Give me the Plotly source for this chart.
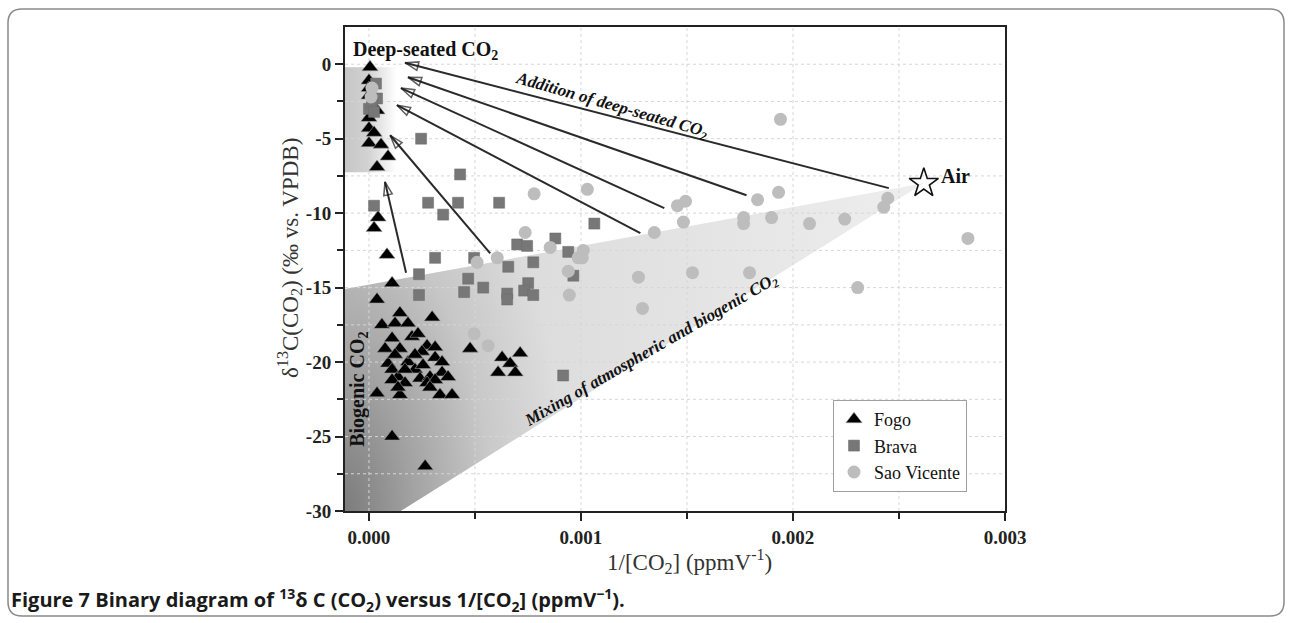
import plotly.graph_objects as go

# ---------------- data ----------------
fogo_x = [0.000005, 0.0, 0.0, 0.0, 0.000014, 0.000038, 0.0, 0.0, 0.000024, 0.0, 0.000057,
          0.000090, 0.000038, 0.000043, 0.000024, 0.000085, 0.000109,
          0.000038, 0.000146, 0.000061, 0.000123, 0.000184, 0.000298, 0.000109, 0.000203,
          0.000231, 0.000274, 0.000312, 0.000076, 0.000146, 0.000250, 0.000312, 0.000345,
          0.000090, 0.000184, 0.000109, 0.000217, 0.000137, 0.000241, 0.000288, 0.000345,
          0.000373, 0.000109, 0.000170, 0.000274, 0.000312, 0.000038, 0.000146, 0.000288,
          0.000335, 0.000392, 0.000123, 0.000217, 0.000170, 0.000255, 0.000137, 0.000477,
          0.000109, 0.000265, 0.000628, 0.000713, 0.000666, 0.000609, 0.000690]
fogo_y = [-0.2, -1.1, -1.6, -2.1, -2.8, -3.1, -3.6, -4.3, -4.6, -5.3, -5.4,
          -6.2, -6.9, -10.3, -11.0, -12.8, -14.7,
          -15.8, -16.7, -17.5, -17.4, -17.4, -17.0, -18.4, -18.3,
          -18.1, -18.9, -19.0, -19.1, -19.1, -19.3, -19.7, -20.0,
          -20.1, -20.0, -20.5, -20.5, -21.0, -21.1, -21.0, -20.7,
          -21.0, -21.2, -21.4, -21.4, -21.2, -22.1, -22.2, -21.7,
          -22.2, -22.2, -19.5, -19.5, -20.5, -20.2, -21.7, -19.1,
          -25.0, -27.0, -19.7, -19.4, -20.1, -20.7, -20.7]

brava_x = [0.000033, 0.000038, 0.0, 0.000014, 0.000024, 0.000246, 0.000430, 0.000024,
           0.000279, 0.000350, 0.000420, 0.000614, 0.001063, 0.000879, 0.000699, 0.000746,
           0.000940, 0.000312, 0.000496, 0.000657, 0.000775, 0.000964, 0.000236, 0.000468,
           0.000539, 0.000449, 0.000652, 0.000652, 0.000751, 0.000732, 0.000775, 0.000236,
           0.000916]
brava_y = [-1.3, -2.3, -3.0, -2.6, -3.2, -5.0, -7.4, -9.5,
           -9.3, -10.1, -9.3, -9.3, -10.7, -11.7, -12.1, -12.2,
           -12.6, -13.0, -13.0, -13.6, -13.3, -14.2, -14.1, -14.4,
           -15.0, -15.3, -15.4, -15.8, -14.7, -15.2, -15.5, -15.5,
           -20.9]

sv_x = [0.000014, 0.000010, 0.000779, 0.001030, 0.000737, 0.000855, 0.001011, 0.001006,
        0.000987, 0.000605, 0.000510, 0.000940, 0.000945, 0.001271, 0.001290, 0.000496,
        0.000562, 0.001941, 0.001932, 0.001833, 0.001767, 0.001767, 0.001899, 0.001493,
        0.001455, 0.001483, 0.001346, 0.001526, 0.001795, 0.002447, 0.002428, 0.002078,
        0.002244, 0.002825, 0.002305]
sv_y = [-1.6, -2.2, -8.7, -8.4, -11.3, -12.3, -12.5, -13.0,
        -13.0, -13.0, -13.3, -13.9, -15.5, -14.3, -16.4, -18.1,
        -18.9, -3.7, -8.6, -9.1, -10.3, -10.7, -10.3, -9.2,
        -9.5, -10.6, -11.3, -14.0, -14.0, -9.0, -9.6, -10.7,
        -10.4, -11.7, -15.0]

air_x, air_y = 0.002617, -7.99

# arrows: tail -> head (addition of deep-seated CO2)
arrow_tail_x = [0.002452, 0.001781, 0.001393, 0.001280, 0.000572, 0.000175]
arrow_tail_y = [-8.32, -8.8, -9.66, -11.34, -12.7, -14.0]
arrow_head_x = [0.000170, 0.000184, 0.000151, 0.000132, 0.000100, 0.0000756]
arrow_head_y = [0.1, -0.87, -1.6, -2.75, -4.77, -7.9]

# shaded domains
deep_x = [-0.000113, 0.000130]
deep_y = [-7.25, -0.2]
mix_left_y = -15.1
mix_bottom_x = 0.00015

x_ticks = [0.0, 0.001, 0.002, 0.003]
x_ticktext = ["0.000", "0.001", "0.002", "0.003"]
x_minor = [0.0005, 0.0015, 0.0025]
y_ticks = [0, -5, -10, -15, -20, -25, -30]
y_ticktext = ["0", "-5", "-10", "-15", "-20", "-25", "-30"]
y_minor = [-2.5, -7.5, -12.5, -17.5, -22.5, -27.5]

# ---------------- layout geometry ----------------
XMIN, XMAX = -0.000113, 0.003
YMIN, YMAX = -30, 2.5
W, H = 1292, 623
L, R, T, B = 345, 287, 27, 112


def paper_x(px):
    return (px - L) / (W - L - R)


def paper_y(py):
    return (H - B - py) / (H - T - B)


SERIF = "Liberation Serif"
fig = go.Figure()

# mixing triangle (base light gray)
fig.add_trace(go.Scatter(
    x=[XMIN, air_x, mix_bottom_x, XMIN, XMIN],
    y=[mix_left_y, air_y, YMIN, YMIN, mix_left_y],
    mode="lines", line=dict(width=0), fill="toself",
    fillgradient=dict(type="horizontal", start=XMIN, stop=air_x,
                      colorscale=[[0, "#d4d4d4"], [1, "#eeeeee"]]),
    showlegend=False, hoverinfo="skip"))

# radial darkening in the biogenic corner (bbox centred on lower-left corner)
wx = air_x - XMIN
up = YMIN + 2 * (air_x - XMIN) / (XMAX - XMIN) * (W - L - R) / (H - T - B) * (YMAX - YMIN)
hy = up - YMIN
fig.add_trace(go.Scatter(
    x=[XMIN - wx, XMIN, XMIN, air_x, mix_bottom_x, mix_bottom_x, XMIN - wx, XMIN - wx],
    y=[YMIN + hy, YMIN + hy, mix_left_y, air_y, YMIN, YMIN - hy, YMIN - hy, YMIN + hy],
    mode="lines", line=dict(width=0), fill="toself",
    fillgradient=dict(type="radial",
                      colorscale=[[0, "rgba(70,70,70,0.62)"], [0.12, "rgba(70,70,70,0.36)"],
                                  [0.25, "rgba(70,70,70,0.12)"], [0.38, "rgba(70,70,70,0.0)"],
                                  [1, "rgba(70,70,70,0.0)"]]),
    showlegend=False, hoverinfo="skip"))

# deep-seated band
fig.add_trace(go.Scatter(
    x=[deep_x[0], deep_x[1], deep_x[1], deep_x[0], deep_x[0]],
    y=[deep_y[1], deep_y[1], deep_y[0], deep_y[0], deep_y[1]],
    mode="lines", line=dict(width=0), fill="toself",
    fillgradient=dict(type="horizontal", start=deep_x[0], stop=deep_x[1],
                      colorscale=[[0, "#c6c6c6"], [0.45, "#d2d2d2"], [1, "#ffffff"]]),
    showlegend=False, hoverinfo="skip"))

# grid lines (above fills, below markers)
gx, gy = [], []
for v in x_ticks[:-1] + x_minor:
    gx += [v, v, None]
    gy += [YMIN, YMAX, None]
for v in y_ticks[:-1] + y_minor:
    gx += [XMIN, XMAX, None]
    gy += [v, v, None]
fig.add_trace(go.Scatter(x=gx, y=gy, mode="lines",
                         line=dict(color="#d6d6d6", width=1, dash="3px,3px"),
                         showlegend=False, hoverinfo="skip"))

# arrows
for tx, ty, hx, hy_ in zip(arrow_tail_x, arrow_tail_y, arrow_head_x, arrow_head_y):
    fig.add_trace(go.Scatter(
        x=[tx, hx], y=[ty, hy_], mode="lines+markers",
        line=dict(color="#2a2a2a", width=2),
        marker=dict(symbol="arrow-open", size=[0, 14], angleref="previous",
                    color="#1a1a1a", line=dict(color="#1a1a1a", width=1.5)),
        showlegend=False, hoverinfo="skip"))

# data
fig.add_trace(go.Scatter(
    x=fogo_x, y=fogo_y, mode="markers", name="Fogo",
    marker=dict(symbol="triangle-up", size=14, color="#000000",
                line=dict(color="#9a9a9a", width=0.6))))
fig.add_trace(go.Scatter(
    x=brava_x, y=brava_y, mode="markers", name="Brava",
    marker=dict(symbol="square", size=11, color="#777777",
                line=dict(color="#6a6a6a", width=0.5))))
fig.add_trace(go.Scatter(
    x=sv_x, y=sv_y, mode="markers", name="Sao Vicente",
    marker=dict(symbol="circle", size=13, color="#bdbdbd", line=dict(width=0))))

# Air
fig.add_trace(go.Scatter(
    x=[air_x], y=[air_y], mode="markers",
    marker=dict(symbol="star-open", size=22, color="#111111", line=dict(width=1.6, color="#111111")),
    showlegend=False, hoverinfo="skip"))

ann = [
    dict(x=-0.000085, y=0.95, xref="x", yref="y", text="<b>Deep-seated CO<sub>2</sub></b>",
         xanchor="left", yanchor="middle", showarrow=False,
         font=dict(family=SERIF, size=20, color="#111")),
    dict(x=0.002688, y=-7.5, xref="x", yref="y", text="<b>Air</b>",
         xanchor="left", yanchor="middle", showarrow=False,
         font=dict(family=SERIF, size=20, color="#111")),
    dict(x=0.001143, y=-2.82, xref="x", yref="y", text="<b><i>Addition of deep-seated CO<sub>2</sub></i></b>",
         textangle=16, showarrow=False, font=dict(family=SERIF, size=17, color="#111")),
    dict(x=0.001332, y=-19.26, xref="x", yref="y",
         text="<b><i>Mixing of atmospheric and biogenic CO<sub>2</sub></i></b>",
         textangle=-30, showarrow=False, font=dict(family=SERIF, size=17, color="#111")),
    dict(x=-0.000047, y=-21.8, xref="x", yref="y", text="<b>Biogenic CO<sub>2</sub></b>",
         textangle=-90, showarrow=False, font=dict(family=SERIF, size=20, color="#111")),
    dict(x=paper_x(689), y=paper_y(561), xref="paper", yref="paper",
         xanchor="center", yanchor="middle",
         text="1/[CO<sub>2</sub>] (ppmV<sup>-1</sup>)", showarrow=False,
         font=dict(family=SERIF, size=23, color="#333")),
    dict(x=paper_x(289), y=paper_y(258), xref="paper", yref="paper",
         xanchor="center", yanchor="middle",
         text="δ<sup>13</sup>C(CO<sub>2</sub>) (‰ vs. VPDB)", textangle=-90, showarrow=False,
         font=dict(family=SERIF, size=23, color="#333")),
    dict(x=paper_x(9), y=paper_y(600), xref="paper", yref="paper", xanchor="left", yanchor="middle",
         text="<b>Figure 7 Binary diagram of <sup>13</sup>δ C (CO<sub>2</sub>) versus 1/[CO<sub>2</sub>] (ppmV<sup>−1</sup>).</b>",
         showarrow=False, font=dict(family="Open Sans", size=20, color="#1a1a1a")),
]

# rounded outer frame
x0, y0, x1, y1, r = 8, 9, 1284, 616, 14
pts = [("M", x0 + r, y0), ("L", x1 - r, y0), ("Q", x1, y0, x1, y0 + r), ("L", x1, y1 - r),
       ("Q", x1, y1, x1 - r, y1), ("L", x0 + r, y1), ("Q", x0, y1, x0, y1 - r),
       ("L", x0, y0 + r), ("Q", x0, y0, x0 + r, y0)]
path = ""
for p in pts:
    cmd, coords = p[0], p[1:]
    pairs = [f"{paper_x(coords[i]):.5f},{paper_y(coords[i + 1]):.5f}" for i in range(0, len(coords), 2)]
    path += cmd + " ".join(pairs) + " "
path += "Z"

fig.update_layout(
    width=W, height=H,
    margin=dict(l=L, r=R, t=T, b=B),
    paper_bgcolor="white", plot_bgcolor="white",
    annotations=ann,
    shapes=[dict(type="path", path=path, xref="paper", yref="paper",
                 line=dict(color="#8a8a8a", width=1.5), layer="below")],
    legend=dict(x=paper_x(833), y=paper_y(400), xanchor="left", yanchor="top",
                bordercolor="#a0a0a0", borderwidth=1, bgcolor="white",
                font=dict(family=SERIF, size=18, color="#111"),
                tracegroupgap=0, itemwidth=30, entrywidth=175, entrywidthmode="pixels"),
    xaxis=dict(range=[XMIN, XMAX], showgrid=False, zeroline=False,
               showline=True, linewidth=2, linecolor="#222", mirror=True,
               ticks="outside", ticklen=8, tickwidth=1.5, tickcolor="#222",
               tickmode="array", tickvals=x_ticks, ticktext=x_ticktext,
               tickfont=dict(family=SERIF, size=19, color="#222", weight="bold"),
               minor=dict(tickmode="array", tickvals=x_minor, ticks="outside", ticklen=6,
                          tickwidth=1.5, tickcolor="#222", showgrid=False)),
    yaxis=dict(range=[YMIN, YMAX], showgrid=False, zeroline=False,
               showline=True, linewidth=2, linecolor="#222", mirror=True,
               ticks="outside", ticklen=8, tickwidth=1.5, tickcolor="#222",
               tickmode="array", tickvals=y_ticks, ticktext=y_ticktext,
               tickfont=dict(family=SERIF, size=19, color="#222", weight="bold"),
               minor=dict(tickmode="array", tickvals=y_minor, ticks="outside", ticklen=6,
                          tickwidth=1.5, tickcolor="#222", showgrid=False)),
)

fig.write_html("out.html", config={"displayModeBar": False},
               post_script="document.body.style.margin='0px';")
